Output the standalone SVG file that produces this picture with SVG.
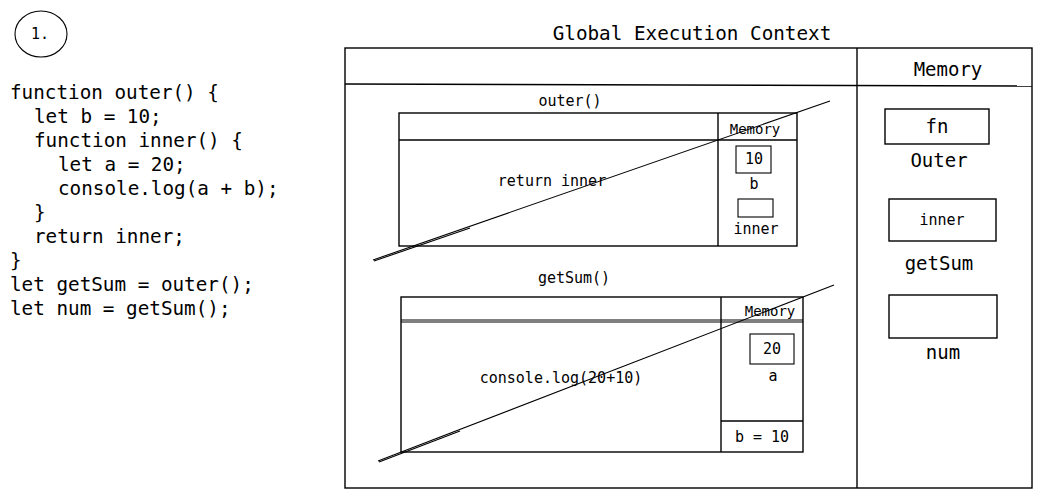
<svg xmlns="http://www.w3.org/2000/svg" width="1044" height="498" viewBox="0 0 1044 498">
<style>
text{font-family:"DejaVu Sans Mono","Liberation Mono",monospace;fill:#000;dominant-baseline:central;text-anchor:middle}
.code{text-anchor:start;font-size:19.3px}
.s{fill:none;stroke:#000;stroke-width:1.4}
.t{fill:none;stroke:#000;stroke-width:1.1}
.big{font-size:19px}
.mid{font-size:15px}
.sm{font-size:14px}
</style>
<rect width="1044" height="498" fill="#fff"/>
<g id="badge">
<ellipse class="t" cx="41" cy="34" rx="26" ry="23"/>
<text x="40" y="34" class="mid">1.</text>
</g>
<g id="code">
<text class="code" x="10" y="92">function outer() {</text>
<text class="code" x="34" y="116">let b = 10;</text>
<text class="code" x="34" y="140">function inner() {</text>
<text class="code" x="58" y="164">let a = 20;</text>
<text class="code" x="58" y="188">console.log(a + b);</text>
<text class="code" x="34" y="212">}</text>
<text class="code" x="34" y="236">return inner;</text>
<text class="code" x="10" y="260">}</text>
<text class="code" x="10" y="284">let getSum = outer();</text>
<text class="code" x="10" y="308">let num = getSum();</text>
</g>
<g id="global">
<text x="692" y="33" class="big" style="font-size:19.3px">Global Execution Context</text>
<rect class="s" x="345" y="48" width="687" height="440"/>
<line class="s" x1="345" y1="84" x2="1032" y2="86"/>
<line class="s" x1="857" y1="48" x2="857" y2="488"/>
<text x="948" y="69" class="big">Memory</text>
</g>
<g id="outer-ctx">
<text x="570" y="101" class="mid">outer()</text>
<rect class="s" x="399" y="113" width="398" height="133"/>
<line class="s" x1="399" y1="140" x2="797" y2="140"/>
<line class="s" x1="718" y1="113" x2="718" y2="246"/>
<text x="755" y="129" class="sm">Memory</text>
<rect class="t" x="736" y="146" width="35" height="27"/>
<text x="754" y="159" class="mid">10</text>
<text x="754" y="184" class="mid">b</text>
<rect class="t" x="738" y="199" width="35" height="18"/>
<text x="756" y="229" class="mid">inner</text>
<text x="552" y="181" class="mid">return inner</text>
<line class="t" x1="373" y1="260" x2="830" y2="101"/>
<line class="t" x1="374" y1="261" x2="470" y2="228"/>
</g>
<g id="getsum-ctx">
<text x="574" y="278" class="mid">getSum()</text>
<rect class="s" x="401" y="297" width="402" height="155"/>
<line class="t" x1="401" y1="320" x2="803" y2="320"/>
<line class="t" x1="401" y1="322" x2="803" y2="322"/>
<line class="s" x1="721" y1="297" x2="721" y2="452"/>
<text x="770" y="311" class="sm">Memory</text>
<rect class="t" x="750" y="334" width="44" height="30"/>
<text x="772" y="349" class="mid">20</text>
<text x="773" y="376" class="mid">a</text>
<line class="s" x1="721" y1="421" x2="803" y2="421"/>
<text x="762" y="437" class="mid">b = 10</text>
<text x="561" y="378" class="mid">console.log(20+10)</text>
<line class="t" x1="378" y1="461" x2="834" y2="285"/>
<line class="t" x1="379" y1="462" x2="460" y2="431"/>
</g>
<g id="global-memory">
<rect class="s" x="885" y="109" width="104" height="35"/>
<text x="937" y="126" class="big">fn</text>
<text x="939" y="160" class="big">Outer</text>
<rect class="s" x="889" y="199" width="107" height="42"/>
<text x="942" y="220" class="mid">inner</text>
<text x="939" y="263" class="big">getSum</text>
<rect class="s" x="889" y="295" width="108" height="43"/>
<text x="943" y="352" class="big">num</text>
</g>
</svg>
